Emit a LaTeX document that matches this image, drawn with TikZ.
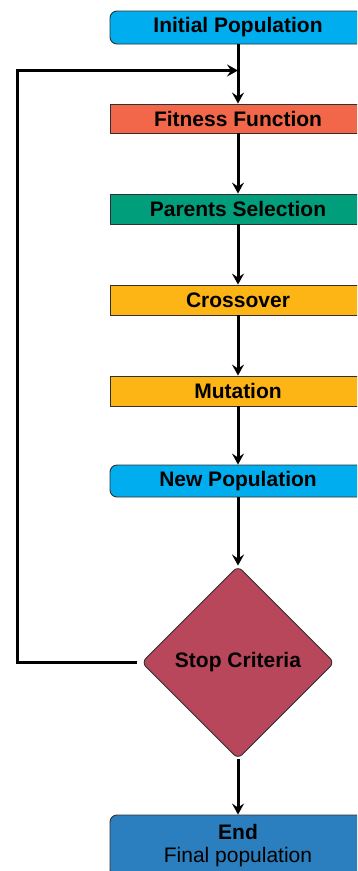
\documentclass[tikz,border=0pt]{standalone}
\usepackage{fontspec}
\setmainfont{Liberation Sans}
\usetikzlibrary{shapes.geometric,arrows.meta}
\definecolor{cblue}{HTML}{00AEEF}
\definecolor{corange}{HTML}{F26649}
\definecolor{cgreen}{HTML}{009E7B}
\definecolor{cyellow}{HTML}{FDB515}
\definecolor{cred}{HTML}{B8475C}
\definecolor{cdblue}{HTML}{2C7FBF}
\definecolor{cborder}{HTML}{303030}
\tikzset{
  x=1pt,y=-1pt,
  box/.style={rectangle,draw=cborder,line width=0.9pt,minimum width=256pt,inner sep=0pt,
    font=\fontsize{21}{24}\selectfont\bfseries,text=black,align=center},
  rbox/.style={box,rounded corners=7pt},
  decision/.style={diamond,draw=cborder,line width=0.9pt,fill=cred,minimum width=193pt,minimum height=193pt,
    inner sep=0pt,aspect=1,rounded corners=6pt,font=\fontsize{21}{24}\selectfont\bfseries},
  arr/.style={line width=3pt,-{Stealth[length=11pt,width=12pt,inset=4pt]}},
  line/.style={line width=3pt}
}
\begin{document}
\begin{tikzpicture}
\useasboundingbox (0,0) rectangle (357,871);
\clip (0,0) rectangle (357,871);
\node[rbox,fill=cblue,minimum height=33pt] (init) at (238,27.5) {Initial Population};
\node[box,fill=corange,minimum height=29pt] (fit) at (238,118.5) {Fitness Function};
\node[box,fill=cgreen,minimum height=30pt] (par) at (238,209) {Parents Selection};
\node[box,fill=cyellow,minimum height=30pt] (cross) at (238,300) {Crossover};
\node[box,fill=cyellow,minimum height=30pt] (mut) at (238,391) {Mutation};
\node[rbox,fill=cblue,minimum height=32pt] (newp) at (238,481) {New Population};
\node[decision] (stop) at (238,662.5) {Stop Criteria};
\node[rbox,fill=cdblue,minimum height=62pt] (end) at (238,846) {\textbf{End}\\[-1pt]{\normalfont Final population}};
\coordinate (join) at (238,70.5);
\draw[arr] (init) -- (fit);
\draw[arr] (fit) -- (par);
\draw[arr] (par) -- (cross);
\draw[arr] (cross) -- (mut);
\draw[arr] (mut) -- (newp);
\draw[arr] (newp) -- (stop);
\draw[arr] (stop) -- (end);
\draw[arr] ([xshift=-4pt]stop.west) -- (17,662.5) |- (join);
\end{tikzpicture}
\end{document}
